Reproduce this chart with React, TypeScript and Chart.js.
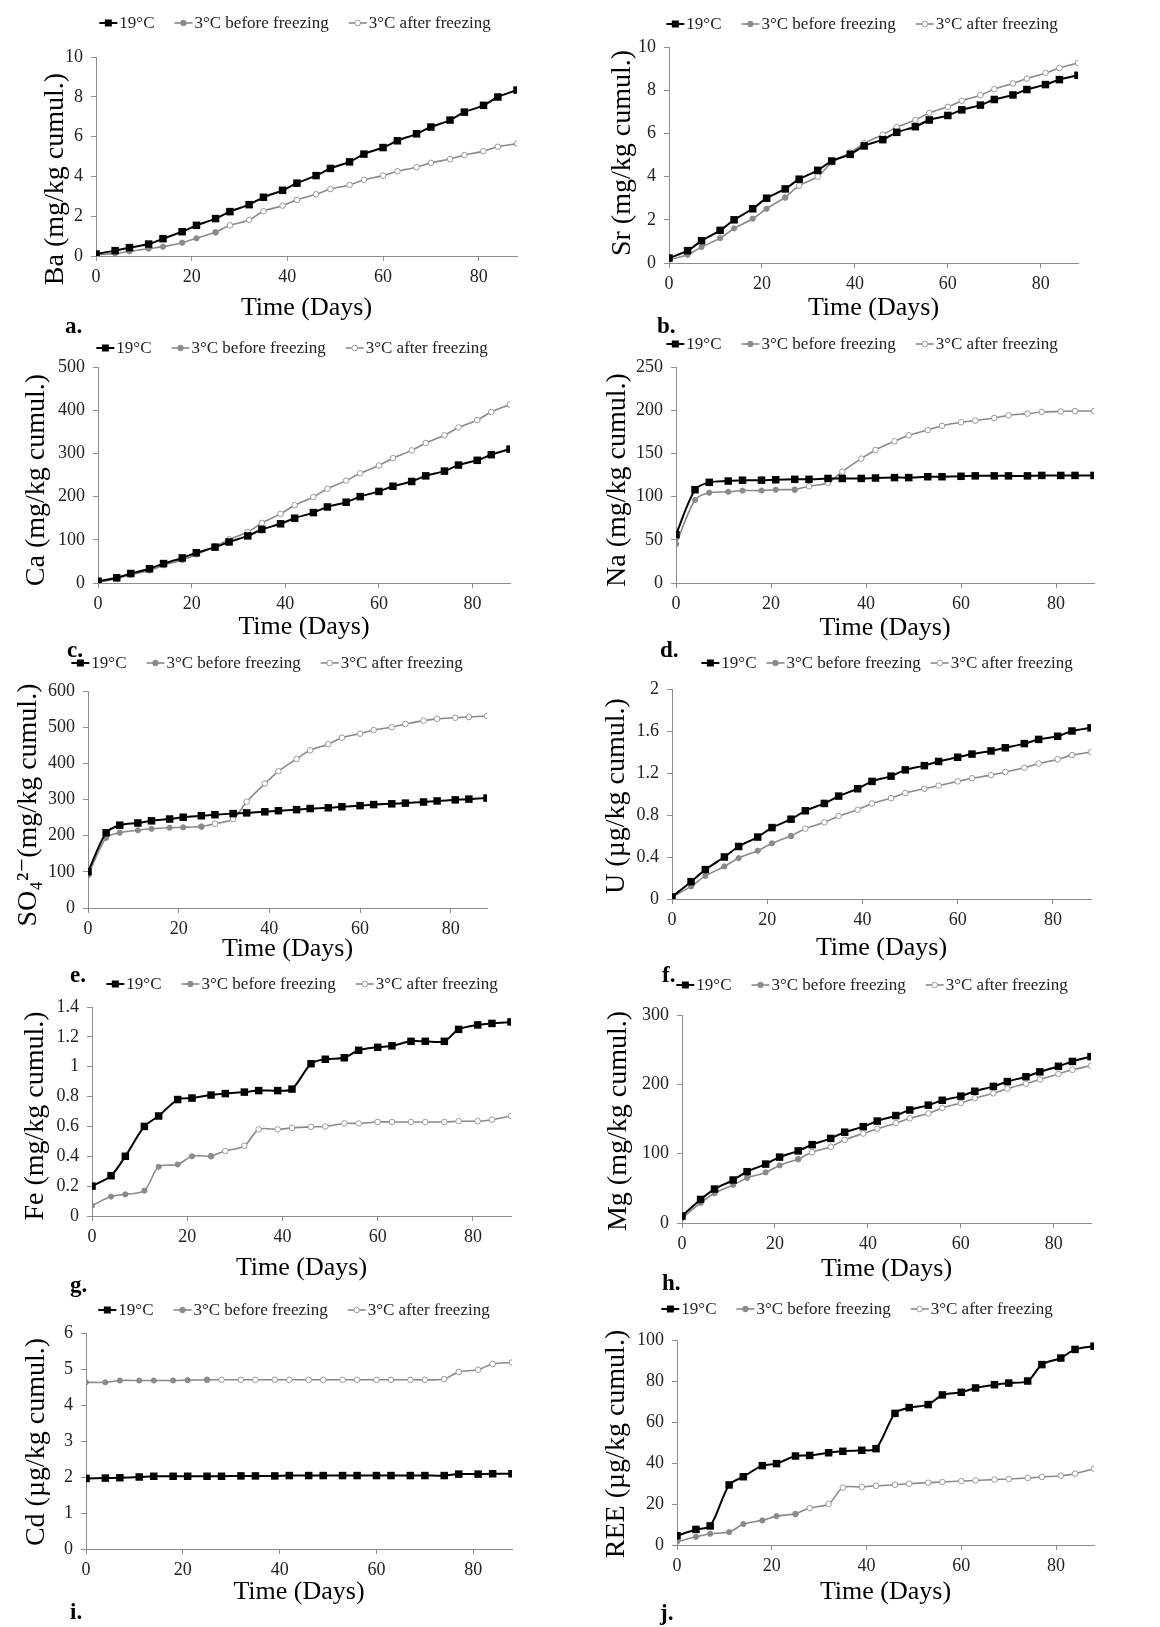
import React, { useEffect, useRef } from "react";
import { Chart, registerables } from "chart.js";

Chart.register(...registerables);

const SERIF = "'Liberation Serif', 'Times New Roman', 'DejaVu Serif', serif";
Chart.defaults.font.family = SERIF;

// ---------- DATA ----------
const DAYS = [0, 4, 7, 11, 14, 18, 21, 25, 28, 32, 35, 39, 42, 46, 49, 53, 56, 60, 63, 67, 70, 74, 77, 81, 84, 88];
const FREEZE_INDEX = 7; // day 25: last "before freezing" sample
const SERIES_LABELS = ["19°C", "3°C before freezing", "3°C after freezing"];
const X_TICKS = [0, 20, 40, 60, 80];

const BA_19 = [0.1, 0.27, 0.42, 0.6, 0.87, 1.22, 1.54, 1.88, 2.23, 2.58, 2.95, 3.3, 3.66, 4.04, 4.4, 4.73, 5.12, 5.45, 5.79, 6.14, 6.48, 6.83, 7.23, 7.57, 7.99, 8.34];
const BA_3 = [0.05, 0.13, 0.23, 0.37, 0.47, 0.67, 0.89, 1.19, 1.54, 1.81, 2.25, 2.53, 2.82, 3.1, 3.36, 3.57, 3.83, 4.04, 4.26, 4.46, 4.68, 4.87, 5.07, 5.27, 5.49, 5.65];
const BA_TICKS = [0, 2, 4, 6, 8, 10];

const SR_19 = [0.23, 0.57, 1.03, 1.51, 2.0, 2.51, 3.0, 3.43, 3.88, 4.29, 4.72, 5.03, 5.42, 5.71, 6.05, 6.31, 6.62, 6.83, 7.09, 7.31, 7.57, 7.78, 8.03, 8.26, 8.49, 8.69];
const SR_3 = [0.15, 0.38, 0.74, 1.15, 1.6, 2.05, 2.51, 3.03, 3.58, 4.0, 4.65, 5.12, 5.54, 5.94, 6.29, 6.62, 6.95, 7.23, 7.51, 7.77, 8.05, 8.31, 8.54, 8.8, 9.03, 9.26];
const SR_TICKS = [0, 2, 4, 6, 8, 10];

const CA_19 = [4, 12, 22, 33, 45, 58, 70, 83, 95, 109, 124, 137, 150, 163, 176, 187, 200, 212, 224, 235, 248, 259, 273, 284, 297, 310];
const CA_3 = [2, 10, 19, 29, 41, 53, 66, 84, 101, 118, 139, 160, 180, 199, 218, 237, 254, 272, 289, 307, 324, 342, 360, 377, 396, 413];
const CA_TICKS = [0, 100, 200, 300, 400, 500];

const NA_19 = [56, 108, 116.5, 118, 119, 119, 119.5, 120, 120, 121, 121, 121, 121.5, 122, 122, 123, 123, 123.5, 124, 124, 124, 124, 124.5, 124.5, 124.5, 124.5];
const NA_3 = [45, 96, 104.5, 105.5, 107, 107, 108, 108, 112, 116, 129, 144, 154, 164, 171, 177, 182, 186, 188, 191, 194, 196, 198, 198.5, 199, 199];
const NA_TICKS = [0, 50, 100, 150, 200, 250];

const SO4_19 = [100, 208, 229, 235, 241, 246, 251, 255, 258, 261, 263, 266, 269, 272, 275, 277, 280, 283, 286, 288, 290, 293, 296, 299, 301, 304];
const SO4_3 = [90, 194, 208, 215, 219, 222, 223, 225, 233, 246, 294, 344, 378, 412, 436, 453, 471, 482, 492, 500, 509, 518, 523, 526, 528, 531];
const SO4_TICKS = [0, 100, 200, 300, 400, 500, 600];

const U_19 = [0.02, 0.165, 0.28, 0.4, 0.5, 0.59, 0.68, 0.76, 0.84, 0.91, 0.98, 1.05, 1.12, 1.17, 1.23, 1.27, 1.31, 1.35, 1.38, 1.41, 1.44, 1.48, 1.52, 1.55, 1.6, 1.63];
const U_3 = [0.02, 0.12, 0.22, 0.31, 0.39, 0.46, 0.53, 0.6, 0.67, 0.73, 0.79, 0.85, 0.91, 0.96, 1.01, 1.05, 1.08, 1.12, 1.15, 1.18, 1.21, 1.25, 1.29, 1.33, 1.37, 1.4];
const U_TICKS = [0, 0.4, 0.8, 1.2, 1.6, 2];

const FE_19 = [0.2, 0.27, 0.4, 0.6, 0.67, 0.78, 0.79, 0.81, 0.82, 0.83, 0.84, 0.84, 0.85, 1.02, 1.05, 1.06, 1.11, 1.13, 1.14, 1.17, 1.17, 1.17, 1.25, 1.28, 1.29, 1.3];
const FE_3 = [0.07, 0.13, 0.145, 0.17, 0.33, 0.345, 0.4, 0.4, 0.435, 0.47, 0.58, 0.58, 0.59, 0.597, 0.6, 0.62, 0.62, 0.63, 0.63, 0.63, 0.63, 0.63, 0.635, 0.635, 0.645, 0.67];
const FE_TICKS = [0, 0.2, 0.4, 0.6, 0.8, 1, 1.2, 1.4];

const MG_19 = [10, 34, 49, 62, 74, 85, 95, 104, 113, 122, 131, 139, 147, 155, 163, 170, 177, 183, 190, 197, 204, 211, 218, 226, 233, 240];
const MG_3 = [7, 29, 43, 55, 65, 73, 83, 92, 102, 110, 120, 129, 136, 144, 151, 158, 166, 173, 180, 187, 194, 201, 207, 215, 221, 227];
const MG_TICKS = [0, 100, 200, 300];

const CD_19 = [1.96, 1.97, 1.98, 2.0, 2.02, 2.02, 2.02, 2.02, 2.02, 2.03, 2.03, 2.03, 2.04, 2.04, 2.04, 2.04, 2.04, 2.04, 2.04, 2.04, 2.04, 2.04, 2.08, 2.08, 2.09, 2.09];
const CD_3 = [4.63, 4.63, 4.68, 4.68, 4.68, 4.68, 4.69, 4.7, 4.7, 4.7, 4.7, 4.7, 4.7, 4.7, 4.7, 4.7, 4.7, 4.7, 4.7, 4.7, 4.7, 4.72, 4.92, 4.98, 5.14, 5.18];
const CD_TICKS = [0, 1, 2, 3, 4, 5, 6];

const REE_19 = [4.5, 7.6, 9.3, 29.3, 33.3, 38.7, 39.7, 43.4, 43.7, 45, 45.7, 46.2, 47, 64.2, 67, 68.5, 73.2, 74.5, 76.6, 78.2, 79, 80, 88, 91.2, 95.4, 97];
const REE_3 = [1.6, 4, 5.5, 6.3, 10.2, 12, 14.1, 15.1, 18, 20, 28, 28.3, 28.9, 29.4, 29.9, 30.4, 30.7, 31.2, 31.5, 31.9, 32.2, 32.7, 33.2, 33.8, 34.8, 37.2];
const REE_TICKS = [0, 20, 40, 60, 80, 100];

const PANELS = [
  { letter: "a.", yTitle: "Ba (mg/kg cumul.)", warm: BA_19, cold: BA_3, yTicks: BA_TICKS },
  { letter: "b.", yTitle: "Sr (mg/kg cumul.)", warm: SR_19, cold: SR_3, yTicks: SR_TICKS },
  { letter: "c.", yTitle: "Ca (mg/kg cumul.)", warm: CA_19, cold: CA_3, yTicks: CA_TICKS },
  { letter: "d.", yTitle: "Na (mg/kg cumul.)", warm: NA_19, cold: NA_3, yTicks: NA_TICKS },
  { letter: "e.", yTitle: "SO₄²⁻(mg/kg cumul.)", warm: SO4_19, cold: SO4_3, yTicks: SO4_TICKS },
  { letter: "f.", yTitle: "U (µg/kg cumul.)", warm: U_19, cold: U_3, yTicks: U_TICKS },
  { letter: "g.", yTitle: "Fe (mg/kg cumul.)", warm: FE_19, cold: FE_3, yTicks: FE_TICKS },
  { letter: "h.", yTitle: "Mg (mg/kg cumul.)", warm: MG_19, cold: MG_3, yTicks: MG_TICKS },
  { letter: "i.", yTitle: "Cd (µg/kg cumul.)", warm: CD_19, cold: CD_3, yTicks: CD_TICKS },
  { letter: "j.", yTitle: "REE (µg/kg cumul.)", warm: REE_19, cold: REE_3, yTicks: REE_TICKS },
];

// ---------- LAYOUT (page pixels) ----------
const LAYOUT = [
  { col: 0, plot: [96, 57, 517, 256], legend: [295, 23, 20], yTitle: [56, 179], xTitleY: 308, label: [65, 326] },
  { col: 580, plot: [669, 47, 1078, 263], legend: [862, 24, 20], yTitle: [623, 153], xTitleY: 308, label: [657, 326] },
  { col: 0, plot: [98, 367, 510, 583], legend: [292, 348, 20], yTitle: [37, 480], xTitleY: 627, label: [67, 650] },
  { col: 580, plot: [676, 367, 1094, 583], legend: [862, 344, 20], yTitle: [618, 480], xTitleY: 628, label: [660, 650] },
  { col: 0, plot: [88, 691, 487, 908], legend: [267, 663, 20], yTitle: [29, 805], xTitleY: 949, label: [70, 975] },
  { col: 580, plot: [672, 689, 1091, 899], legend: [887, 663, 10], yTitle: [617, 796], xTitleY: 948, label: [662, 975] },
  { col: 0, plot: [92, 1007, 511, 1216], legend: [302, 984, 20], yTitle: [36, 1116], xTitleY: 1268, label: [70, 1285] },
  { col: 580, plot: [682, 1015, 1091, 1223], legend: [872, 985, 20], yTitle: [619, 1121], xTitleY: 1269, label: [662, 1283] },
  { col: 0, plot: [86, 1333, 512, 1549], legend: [294, 1310, 20], yTitle: [37, 1442], xTitleY: 1592, label: [70, 1612] },
  { col: 580, plot: [677, 1340, 1094, 1545], legend: [857, 1309, 20], yTitle: [617, 1444], xTitleY: 1592, label: [660, 1613] },
];

const BLACK = "#000000";
const GRAY = "#8a8a8a";
const GRAY_OPEN = "#9a9a9a";
const AXIS = "#8c8c8c";
const TEXT = "#222222";

function boxOf(lay: any) {
  const y = lay.legend[1] - 16;
  return { x: lay.col, y, w: 580, h: lay.xTitleY + 18 - y };
}

const legendPlugin = {
  id: "lineLegend",
  afterDraw(chart: any, _args: any, opts: any) {
    const ctx = chart.ctx;
    ctx.save();
    ctx.font = `17px ${SERIF}`;
    const sample = 18;
    const textGap = 2;
    const gap = opts.gap;
    const dss = chart.data.datasets;
    const widths = dss.map((d: any) => sample + textGap + ctx.measureText(d.label).width);
    const total = widths.reduce((a: number, b: number) => a + b, 0) + gap * (dss.length - 1);
    let x = opts.cx - total / 2;
    const y = opts.cy;
    dss.forEach((d: any, i: number) => {
      ctx.strokeStyle = d.borderColor;
      ctx.lineWidth = d.borderWidth;
      ctx.beginPath();
      ctx.moveTo(x, y);
      ctx.lineTo(x + sample, y);
      ctx.stroke();
      const mx = x + sample / 2;
      ctx.fillStyle = d.pointBackgroundColor;
      ctx.strokeStyle = d.pointBorderColor;
      ctx.lineWidth = d.pointBorderWidth;
      if (d.pointStyle === "rect") {
        ctx.fillRect(mx - 3.5, y - 3.5, 7, 7);
      } else {
        ctx.beginPath();
        ctx.arc(mx, y, 2.8, 0, Math.PI * 2);
        ctx.fill();
        ctx.stroke();
      }
      ctx.fillStyle = TEXT;
      ctx.textBaseline = "middle";
      ctx.textAlign = "left";
      ctx.fillText(d.label, x + sample + textGap, y + 1);
      x += widths[i] + gap;
    });
    ctx.restore();
  },
};

const yTitlePlugin = {
  id: "yTitle",
  afterDraw(chart: any, _args: any, opts: any) {
    const ctx = chart.ctx;
    ctx.save();
    ctx.translate(opts.x, opts.y);
    ctx.rotate(-Math.PI / 2);
    ctx.font = `28px ${SERIF}`;
    ctx.fillStyle = "#000";
    ctx.textAlign = "center";
    ctx.textBaseline = "middle";
    ctx.fillText(opts.text, 0, 0);
    ctx.restore();
  },
};

function fmt(v: any) {
  return String(Number(Number(v).toFixed(3)));
}

function buildConfig(panel: any, lay: any) {
  const box = boxOf(lay);
  const [pl, pt, pr, pb] = lay.plot;
  const warm = DAYS.map((d, i) => ({ x: d, y: panel.warm[i] }));
  const before = DAYS.slice(0, FREEZE_INDEX + 1).map((d, i) => ({ x: d, y: panel.cold[i] }));
  const after = DAYS.slice(FREEZE_INDEX).map((d, i) => ({ x: d, y: panel.cold[i + FREEZE_INDEX] }));
  const yMax = panel.yTicks[panel.yTicks.length - 1];
  return {
    type: "line",
    data: {
      datasets: [
        {
          label: SERIES_LABELS[0], data: warm, borderColor: BLACK, borderWidth: 2,
          pointStyle: "rect", pointRadius: 5.3, pointBackgroundColor: BLACK, pointBorderColor: BLACK, pointBorderWidth: 0,
          tension: 0.3,
        },
        {
          label: SERIES_LABELS[1], data: before, borderColor: GRAY, borderWidth: 1.6,
          pointStyle: "circle", pointRadius: 2.6, pointBackgroundColor: GRAY, pointBorderColor: GRAY, pointBorderWidth: 1,
          tension: 0.3,
        },
        {
          label: SERIES_LABELS[2], data: after, borderColor: GRAY, borderWidth: 1.6,
          pointStyle: "circle", pointRadius: 2.8, pointBackgroundColor: "#ffffff", pointBorderColor: GRAY_OPEN, pointBorderWidth: 1,
          tension: 0.3,
        },
      ],
    },
    options: {
      responsive: false,
      animation: false,
      devicePixelRatio: 1,
      layout: {
        padding: { left: 0, top: pt - box.y, right: box.x + box.w - pr, bottom: 0 },
      },
      plugins: {
        legend: { display: false },
        tooltip: { enabled: false },
        lineLegend: { cx: lay.legend[0] - box.x, cy: lay.legend[1] - box.y, gap: lay.legend[2] },
        yTitle: { x: lay.yTitle[0] - box.x, y: lay.yTitle[1] - box.y, text: panel.yTitle },
      },
      scales: {
        x: {
          type: "linear",
          min: 0,
          max: 88,
          afterBuildTicks: (s: any) => { s.ticks = X_TICKS.map((v) => ({ value: v })); },
          afterFit: (s: any) => { s.height = box.y + box.h - pb; },
          ticks: { color: TEXT, font: { size: 18, family: SERIF }, padding: 5, callback: fmt, maxRotation: 0 },
          grid: { drawOnChartArea: false, drawTicks: true, tickLength: 5, color: AXIS },
          border: { color: AXIS, width: 1 },
          title: { display: true, text: "Time (Days)", color: "#000", font: { size: 26, family: SERIF }, padding: { top: 0, bottom: 2 } },
        },
        y: {
          type: "linear",
          min: 0,
          max: yMax,
          afterBuildTicks: (s: any) => { s.ticks = panel.yTicks.map((v: number) => ({ value: v })); },
          afterFit: (s: any) => { s.width = pl - box.x; },
          ticks: { color: TEXT, font: { size: 18, family: SERIF }, padding: 8, callback: fmt },
          grid: { drawOnChartArea: false, drawTicks: true, tickLength: 5, color: AXIS },
          border: { color: AXIS, width: 1 },
          title: { display: false },
        },
      },
    },
    plugins: [legendPlugin, yTitlePlugin],
  };
}

function Panel({ panel, lay }: { panel: any; lay: any }) {
  const ref = useRef<HTMLCanvasElement | null>(null);
  const box = boxOf(lay);
  useEffect(() => {
    if (!ref.current) return;
    const chart = new Chart(ref.current, buildConfig(panel, lay) as any);
    return () => chart.destroy();
  }, []);
  return (
    <canvas
      ref={ref}
      width={box.w}
      height={box.h}
      style={{ position: "absolute", left: box.x, top: box.y, width: box.w, height: box.h }}
    />
  );
}

export default function App() {
  return (
    <div style={{ position: "absolute", left: 0, top: 0, width: 1160, height: 1627, background: "#fff", overflow: "hidden" }}>
      {PANELS.map((p, i) => (
        <Panel key={i} panel={p} lay={LAYOUT[i]} />
      ))}
      {PANELS.map((p, i) => (
        <div
          key={"l" + i}
          style={{
            position: "absolute",
            left: LAYOUT[i].label[0],
            top: LAYOUT[i].label[1] - 14,
            fontFamily: SERIF,
            fontWeight: "bold",
            fontSize: 23,
            lineHeight: "28px",
            color: "#000",
            zIndex: 2,
          }}
        >
          {p.letter}
        </div>
      ))}
    </div>
  );
}
